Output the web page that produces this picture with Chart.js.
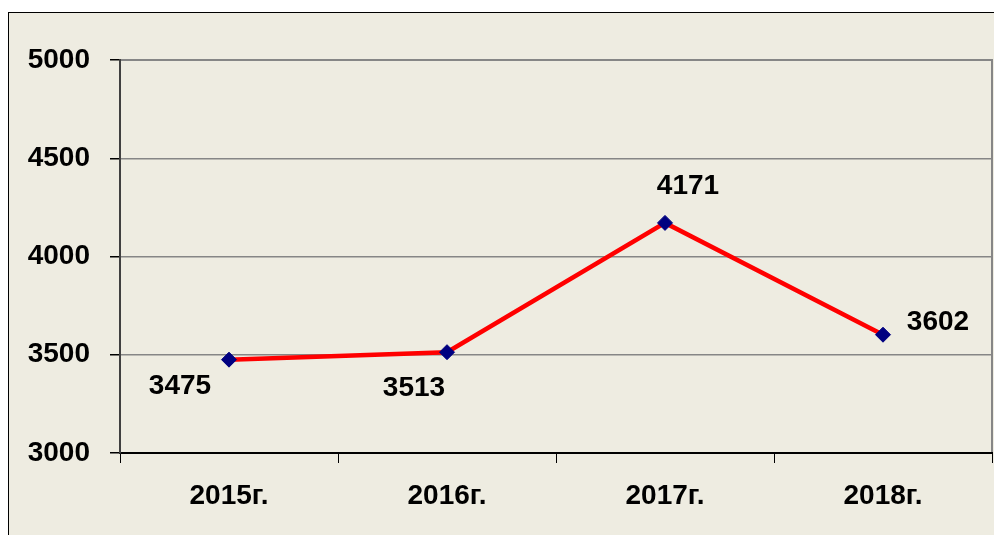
<!DOCTYPE html>
<html>
<head>
<meta charset="utf-8">
<script src="https://cdn.jsdelivr.net/npm/chart.js@4/dist/chart.umd.min.js"></script>
<style>
  html, body { margin: 0; padding: 0; background: #fff; overflow: hidden; }
  #wrap { width: 994px; height: 535px; position: relative; }
</style>
</head>
<body>
<div id="wrap"><canvas id="chart"></canvas></div>
<script>
let years = ['2015г.', '2016г.', '2017г.', '2018г.'];
let counts = [3475, 3513, 4171, 3602];
let yTicks = [3000, 3500, 4000, 4500, 5000];

// where each value label sits relative to its point
let labelShift = [[-49, 27], [-33, 36], [23, -37], [55, -12]];

const frame = {
    id: 'frame',
    beforeDraw(chart) {
        const c = chart.ctx;
        c.save();
        c.fillStyle = '#ffffff';
        c.fillRect(0, 0, chart.width, chart.height);
        c.fillStyle = '#eeece1';
        c.fillRect(8.5, 12.5, chart.width + 10, chart.height + 10);
        c.strokeStyle = '#000';
        c.lineWidth = 1;
        c.strokeRect(8.5, 12.5, chart.width + 10, chart.height + 10);
        const a = chart.chartArea;
        c.strokeStyle = '#868686';
        c.lineWidth = 2;
        c.strokeRect(a.left, a.top, a.right - a.left, a.bottom - a.top);
        c.restore();
    }
};

const valueLabels = {
    id: 'valueLabels',
    afterDatasetsDraw(chart) {
        const c = chart.ctx;
        const meta = chart.getDatasetMeta(0);
        c.save();
        c.font = 'bold 28px "Liberation Sans"';
        c.fillStyle = '#000';
        c.textAlign = 'center';
        c.textBaseline = 'middle';
        meta.data.forEach((pt, i) => {
            c.fillText(String(counts[i]), pt.x + labelShift[i][0], pt.y + labelShift[i][1]);
        });
        c.restore();
    }
};

const chart = new Chart(document.getElementById('chart'), {
    type: 'line',
    data: {
        labels: years,
        datasets: [{
            data: counts,
            borderColor: '#ff0000',
            borderWidth: 4.5,
            pointStyle: 'rectRot',
            pointRadius: 7.5,
            pointBackgroundColor: '#000080',
            pointBorderColor: '#000080',
            pointBorderWidth: 1,
            tension: 0
        }]
    },
    options: {
        responsive: true,
        maintainAspectRatio: false,
        animation: false,
        layout: { autoPadding: false, padding: { top: 60, right: 2, left: 0, bottom: 0 } },
        plugins: {
            legend: { display: false },
            tooltip: { enabled: false }
        },
        scales: {
            x: {
                offset: true,
                grid: {
                    offset: true,
                    drawOnChartArea: false,
                    tickLength: 10,
                    tickColor: '#000',
                    lineWidth: 1
                },
                border: { color: '#000', width: 2 },
                ticks: {
                    color: '#000',
                    padding: 16,
                    maxRotation: 0,
                    font: { family: '"Liberation Sans"', size: 28, weight: 'bold' }
                },
                afterFit(s) {
                    s.height = 82;
                    s.paddingLeft = 0;
                    s.paddingRight = 0;
                }
            },
            y: {
                min: 3000,
                max: 5000,
                afterBuildTicks(s) { s.ticks = yTicks.map(v => ({ value: v })); },
                grid: {
                    color: '#868686',
                    lineWidth: 1.5,
                    tickLength: 10,
                    tickColor: '#000'
                },
                border: { color: '#404040', width: 2 },
                ticks: {
                    color: '#000',
                    padding: 20,
                    callback: v => String(v),
                    font: { family: '"Liberation Sans"', size: 28, weight: 'bold' }
                },
                afterFit(s) { s.width = 120; }
            }
        }
    },
    plugins: [frame, valueLabels]
});
</script>
</body>
</html>
